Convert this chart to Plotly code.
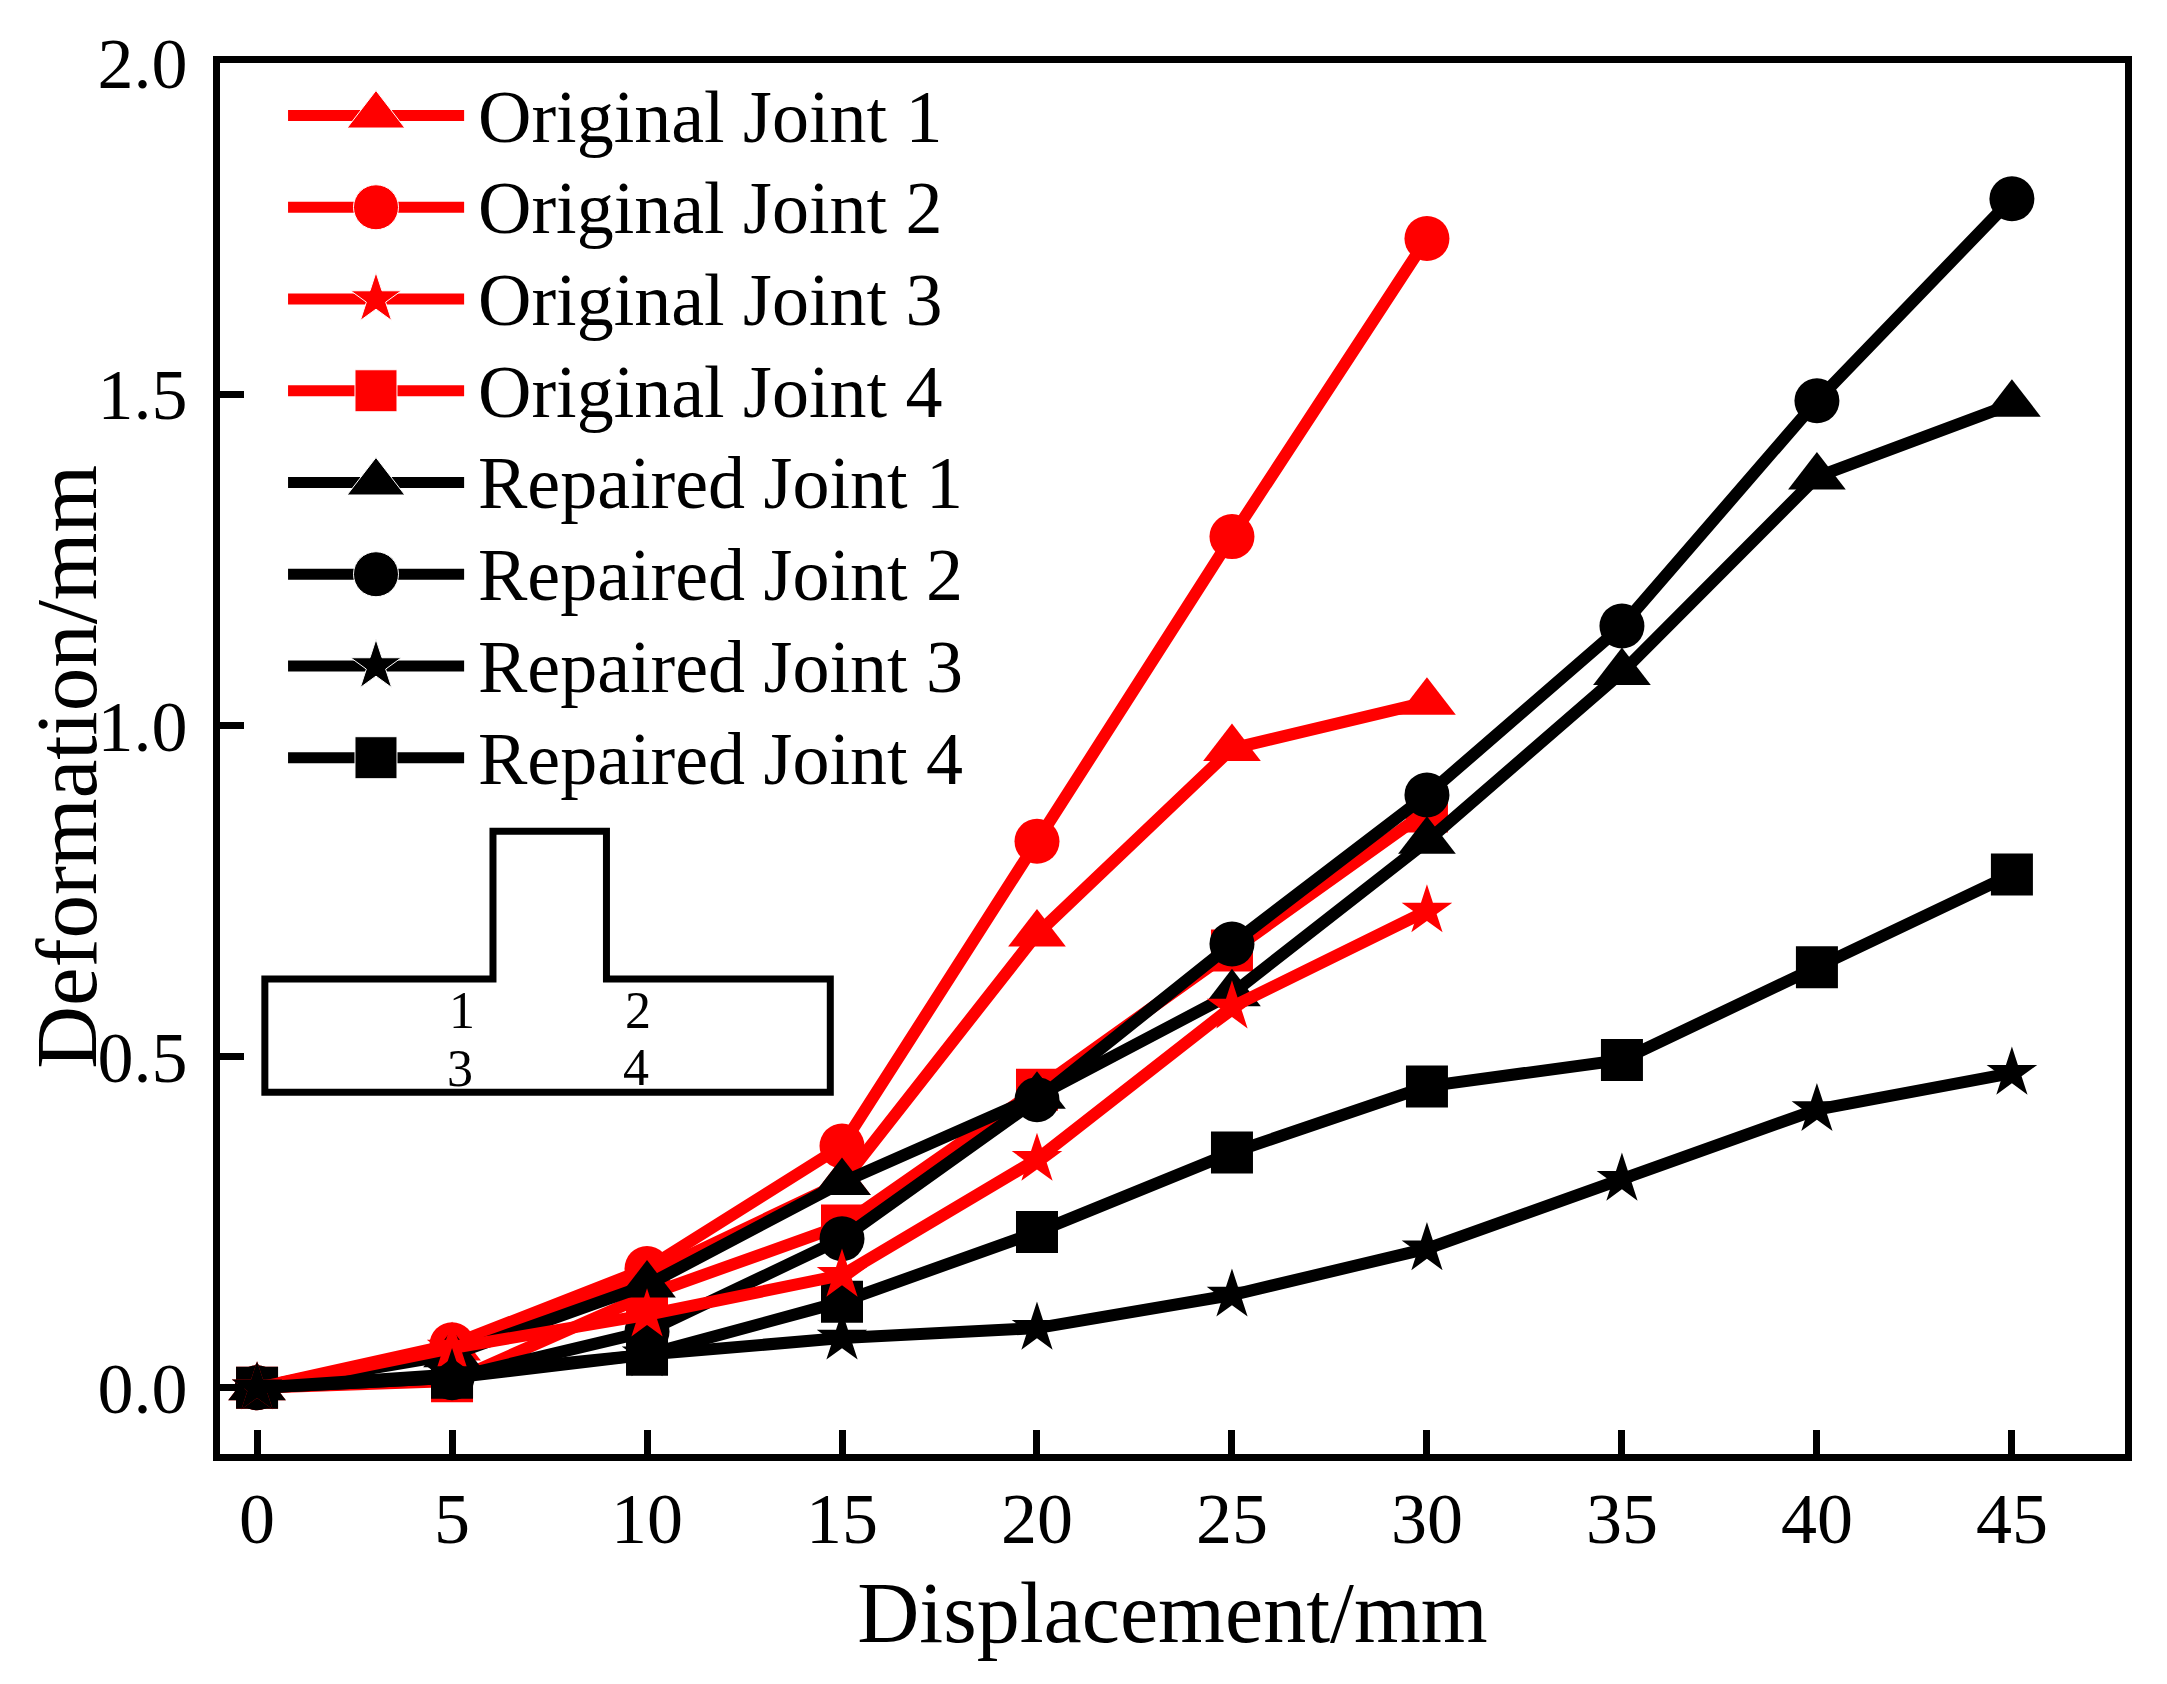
import plotly.graph_objects as go

FONT = "Liberation Serif"
RED = "#FF0000"
BLACK = "#000000"

disp_short = [0, 5, 10, 15, 20, 25, 30]
disp_long = [0, 5, 10, 15, 20, 25, 30, 35, 40, 45]

original_1 = [0, 0.06, 0.17, 0.31, 0.685, 0.965, 1.035]
original_2 = [0, 0.065, 0.18, 0.365, 0.825, 1.285, 1.735]
original_3 = [0, 0.06, 0.11, 0.17, 0.345, 0.575, 0.72]
original_4 = [0, 0.01, 0.14, 0.245, 0.45, 0.66, 0.87]
repaired_1 = [0, 0.05, 0.155, 0.31, 0.44, 0.595, 0.825, 1.08, 1.375, 1.485]
repaired_2 = [0, 0.015, 0.085, 0.225, 0.435, 0.67, 0.895, 1.15, 1.49, 1.795]
repaired_3 = [0, 0.02, 0.05, 0.075, 0.09, 0.14, 0.21, 0.315, 0.42, 0.475]
repaired_4 = [0, 0.015, 0.05, 0.13, 0.235, 0.355, 0.455, 0.495, 0.635, 0.775]

marker_sizes = {"triangle-up": 50, "circle": 45, "star": 38, "square": 42}

# draw order differs from legend order, red stars sit over the black squares
series = [
    ("Original Joint 1", disp_short, original_1, RED, "triangle-up"),
    ("Original Joint 2", disp_short, original_2, RED, "circle"),
    ("Original Joint 4", disp_short, original_4, RED, "square"),
    ("Repaired Joint 1", disp_long, repaired_1, BLACK, "triangle-up"),
    ("Repaired Joint 2", disp_long, repaired_2, BLACK, "circle"),
    ("Repaired Joint 4", disp_long, repaired_4, BLACK, "square"),
    ("Original Joint 3", disp_short, original_3, RED, "star"),
    ("Repaired Joint 3", disp_long, repaired_3, BLACK, "star"),
]

# hand built legend: plotly caps legend markers and ties row height to font size
legend_rows = [
    ("Original Joint 1", RED, "triangle-up"),
    ("Original Joint 2", RED, "circle"),
    ("Original Joint 3", RED, "star"),
    ("Original Joint 4", RED, "square"),
    ("Repaired Joint 1", BLACK, "triangle-up"),
    ("Repaired Joint 2", BLACK, "circle"),
    ("Repaired Joint 3", BLACK, "star"),
    ("Repaired Joint 4", BLACK, "square"),
]
legend_y_top = 1.9207
legend_y_step = 0.1385

fig = go.Figure()
for name, x, y, color, symbol in series:
    fig.add_trace(go.Scatter(
        x=x,
        y=y,
        name=name,
        mode="lines+markers",
        showlegend=False,
        line=dict(color=color, width=12),
        marker=dict(color=color, symbol=symbol, size=marker_sizes[symbol]),
    ))

for i, (name, color, symbol) in enumerate(legend_rows):
    row_y = legend_y_top - i * legend_y_step
    fig.add_trace(go.Scatter(
        x=[0.795, 3.05, 5.31],
        y=[row_y, row_y, row_y],
        name=name,
        mode="lines+markers",
        showlegend=False,
        hoverinfo="skip",
        line=dict(color=color, width=11),
        marker=dict(color=color, symbol=symbol, opacity=1,
                    size=[0, marker_sizes[symbol], 0]),
    ))
    fig.add_annotation(
        x=5.62, y=row_y, yshift=-1, text=name, showarrow=False, xanchor="left",
        font=dict(family=FONT, size=74, color=BLACK),
    )

# cross section sketch in the lower left
fig.add_shape(
    type="path",
    path="M 0.2 0.446 L 0.2 0.617 L 6.05 0.617 L 6.05 0.84 L 8.96 0.84 "
         "L 8.96 0.617 L 14.7 0.617 L 14.7 0.446 Z",
    line=dict(color=BLACK, width=7),
)
joint_labels = ["1", "2", "3", "4"]
joint_x = [5.25, 9.78, 5.2, 9.73]
joint_y = [0.569, 0.569, 0.482, 0.484]
for label, jx, jy in zip(joint_labels, joint_x, joint_y):
    fig.add_annotation(
        x=jx, y=jy, text=label, showarrow=False,
        font=dict(family=FONT, size=52, color=BLACK),
    )

# y title as annotation, the real axis title will not sit this close to the labels
fig.add_annotation(
    xref="paper", yref="paper", x=-0.0803, y=0.494, text="Deformation/mm",
    xanchor="center", yanchor="middle", textangle=-90, showarrow=False,
    font=dict(family=FONT, size=87, color=BLACK),
)

axis_style = dict(
    showgrid=False,
    zeroline=False,
    showline=True,
    mirror=True,
    linecolor=BLACK,
    linewidth=7,
    ticks="inside",
    ticklen=24,
    tickwidth=6.5,
    tickcolor=BLACK,
)

fig.update_layout(
    width=2167,
    height=1684,
    margin=dict(l=212, r=50, t=55, b=238),
    paper_bgcolor="white",
    plot_bgcolor="white",
    font=dict(family=FONT, color=BLACK),
    showlegend=False,
    xaxis=dict(
        range=[-0.95, 47.9],
        tickvals=disp_long,
        tickfont=dict(family=FONT, size=72, color=BLACK),
        ticklabelstandoff=-4,
        title=dict(text="Displacement/mm", font=dict(family=FONT, size=86), standoff=26),
        **axis_style,
    ),
    yaxis=dict(
        range=[-0.1, 2.0],
        tickvals=[0, 0.5, 1.0, 1.5, 2.0],
        tickformat=".1f",
        tickfont=dict(family=FONT, size=72, color=BLACK),
        ticklabelstandoff=11,
        **axis_style,
    ),
)

fig.write_html("out.html")
